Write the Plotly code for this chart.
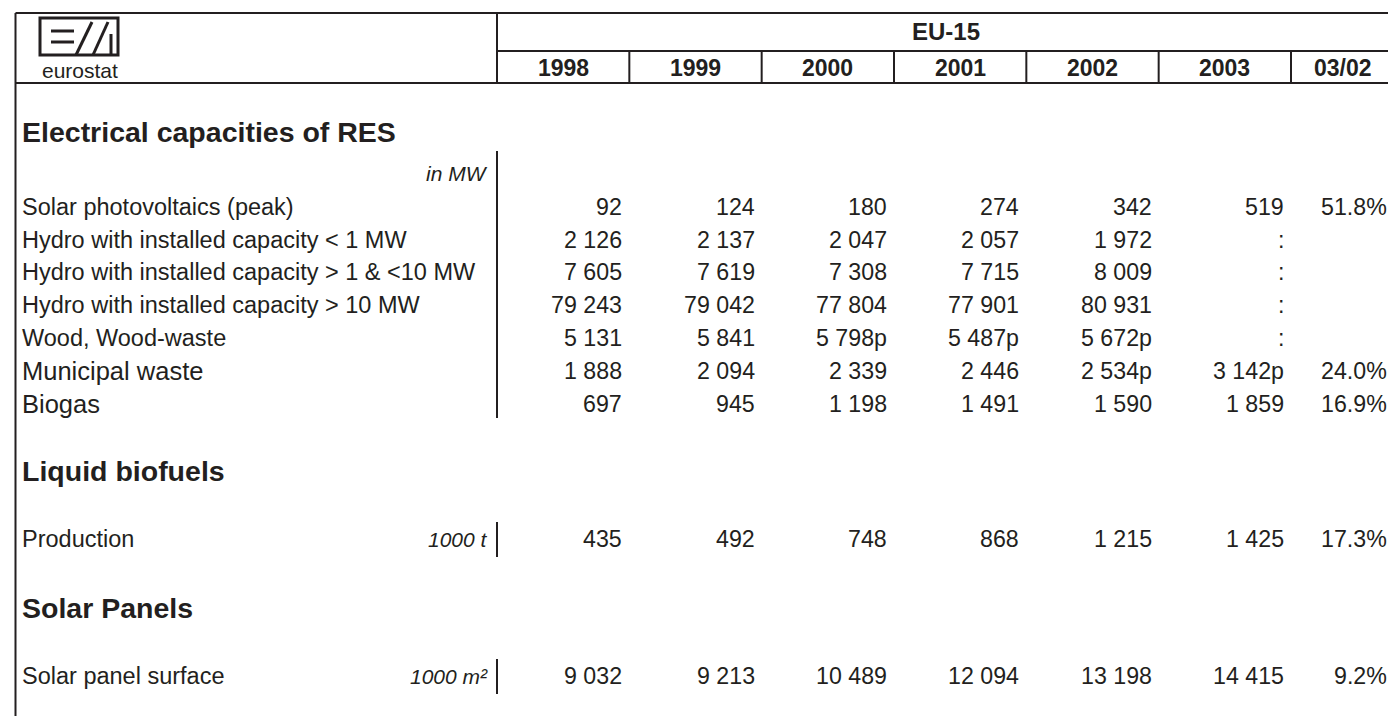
import plotly.graph_objects as go

# ---------------- data ----------------
region = "EU-15"
years = ["1998", "1999", "2000", "2001", "2002", "2003", "03/02"]

sec1_title = "Electrical capacities of RES"
sec1_unit = "in MW"
sec1_labels = [
    "Solar photovoltaics (peak)",
    "Hydro with installed capacity < 1 MW",
    "Hydro with installed capacity > 1 & <10 MW",
    "Hydro with installed capacity > 10 MW",
    "Wood, Wood-waste",
    "Municipal waste",
    "Biogas",
]
solar_pv = [92, 124, 180, 274, 342, 519]
hydro_small = [2126, 2137, 2047, 2057, 1972, None]
hydro_mid = [7605, 7619, 7308, 7715, 8009, None]
hydro_large = [79243, 79042, 77804, 77901, 80931, None]
wood = [5131, 5841, 5798, 5487, 5672, None]
municipal = [1888, 2094, 2339, 2446, 2534, 3142]
biogas = [697, 945, 1198, 1491, 1590, 1859]
sec1_values = [solar_pv, hydro_small, hydro_mid, hydro_large, wood, municipal, biogas]
sec1_prov = [
    [], [], [], [],
    ["2000", "2001", "2002"],
    ["2002", "2003"],
    [],
]
sec1_growth = [51.8, None, None, None, None, 24.0, 16.9]

sec2_title = "Liquid biofuels"
sec2_label = "Production"
sec2_unit = "1000 t"
biofuels = [435, 492, 748, 868, 1215, 1425]
sec2_growth = 17.3

sec3_title = "Solar Panels"
sec3_label = "Solar panel surface"
sec3_unit = "1000 m²"
solar_panels = [9032, 9213, 10489, 12094, 13198, 14415]
sec3_growth = 9.2

# ---------------- layout constants ----------------
W, H = 1396, 716
INK = "#231f20"
FONT = "Liberation Sans"
LEFT, RIGHT, TOP = 7.5, 1386, 5
SEP = 489
LAST = 1283
HDR_MID, HDR_BOT = 43, 75
n_year = len(years) - 1
edges = [SEP + i * (LAST - SEP) / n_year for i in range(n_year + 1)] + [RIGHT]
LABEL_X = 13
UNIT_X = 481
PAD = 6

NUM_SIZE = 23.2
LAB_SIZE = 23.5
BIG_LAB_SIZE = 25.5
SEC_SIZE = 28.5
UNIT_SIZE = 21

fig = go.Figure()
fig.add_trace(go.Scatter(x=[0, W], y=[0, H], mode="markers",
                         marker=dict(opacity=0), hoverinfo="skip", showlegend=False))

ann = []
shapes = []


def line(x0, y0, x1, y1, w=2):
    shapes.append(dict(type="line", xref="x", yref="y", x0=x0, y0=y0, x1=x1, y1=y1,
                       line=dict(color=INK, width=w)))


def text(t, x, y, anchor="left", size=LAB_SIZE, bold=False, italic=False):
    ann.append(dict(text=t, x=x, y=y, xref="x", yref="y", xanchor=anchor, yanchor="middle",
                    showarrow=False, borderpad=0,
                    font=dict(family=FONT, size=size, color=INK,
                              weight="bold" if bold else "normal",
                              style="italic" if italic else "normal")))


def fmt(v, prov=False):
    if v is None:
        return ":"
    return f"{v:,}".replace(",", " ") + ("p" if prov else "")


def value_row(y, vals, prov_years, growth):
    for i, v in enumerate(vals):
        text(fmt(v, years[i] in prov_years), edges[i + 1] - PAD, y, anchor="right", size=NUM_SIZE)
    if growth is not None:
        text(f"{growth:.1f}%", edges[-1] - PAD, y, anchor="right", size=NUM_SIZE)


# ---------------- frame / header ----------------
line(LEFT, TOP, RIGHT, TOP)
line(LEFT, TOP, LEFT, H)
line(RIGHT, TOP, RIGHT, H)
line(LEFT, HDR_BOT, RIGHT, HDR_BOT)
line(SEP, TOP, SEP, HDR_BOT)
line(SEP, HDR_MID, RIGHT, HDR_MID)
for e in edges[1:-1]:
    line(e, HDR_MID, e, HDR_BOT)

text(region, (SEP + RIGHT) / 2, 23, anchor="center", size=24, bold=True)
for i, yr in enumerate(years):
    text(yr, (edges[i] + edges[i + 1]) / 2, 60, anchor="center", size=23, bold=True)

# logo
shapes.append(dict(type="rect", xref="x", yref="y", x0=29, y0=6, x1=114, y1=9,
                   line=dict(width=0), fillcolor="white"))
shapes.append(dict(type="rect", xref="x", yref="y", x0=32, y0=10, x1=110, y1=47,
                   line=dict(color=INK, width=3), fillcolor="white"))
line(43, 23, 66, 23, 3)
line(43, 34, 66, 34, 3)
line(68, 47, 84, 14, 3)
line(85, 47, 100, 14, 3)
line(103, 26, 103, 47, 3)
text("eurostat", 72, 62, anchor="center", size=21)

# ---------------- section 1 ----------------
text(sec1_title, LABEL_X, 124, size=SEC_SIZE, bold=True)
text(sec1_unit, UNIT_X, 165, anchor="right", size=UNIT_SIZE, italic=True)
line(SEP, 143, SEP, 410)
row_y = [199, 232, 264, 297, 330, 363, 396]
for lab, vals, prov, g, y in zip(sec1_labels, sec1_values, sec1_prov, sec1_growth, row_y):
    big = lab in ("Municipal waste", "Biogas")
    text(lab, LABEL_X, y, size=BIG_LAB_SIZE if big else LAB_SIZE)
    value_row(y, vals, prov, g)

# ---------------- section 2 ----------------
text(sec2_title, LABEL_X, 463, size=SEC_SIZE, bold=True)
text(sec2_label, LABEL_X, 531, size=LAB_SIZE)
text(sec2_unit, UNIT_X, 531, anchor="right", size=UNIT_SIZE, italic=True)
line(SEP, 514, SEP, 549)
value_row(531, biofuels, [], sec2_growth)

# ---------------- section 3 ----------------
text(sec3_title, LABEL_X, 600, size=SEC_SIZE, bold=True)
text(sec3_label, LABEL_X, 668, size=LAB_SIZE)
text(sec3_unit, UNIT_X, 668, anchor="right", size=UNIT_SIZE, italic=True)
line(SEP, 651, SEP, 686)
value_row(668, solar_panels, [], sec3_growth)

fig.update_layout(
    width=W, height=H, margin=dict(l=0, r=0, t=0, b=0),
    paper_bgcolor="white", plot_bgcolor="white",
    xaxis=dict(range=[0, W], visible=False, fixedrange=True),
    yaxis=dict(range=[H, 0], visible=False, fixedrange=True),
    annotations=ann, shapes=shapes, showlegend=False,
)
fig.write_html("out.html")
